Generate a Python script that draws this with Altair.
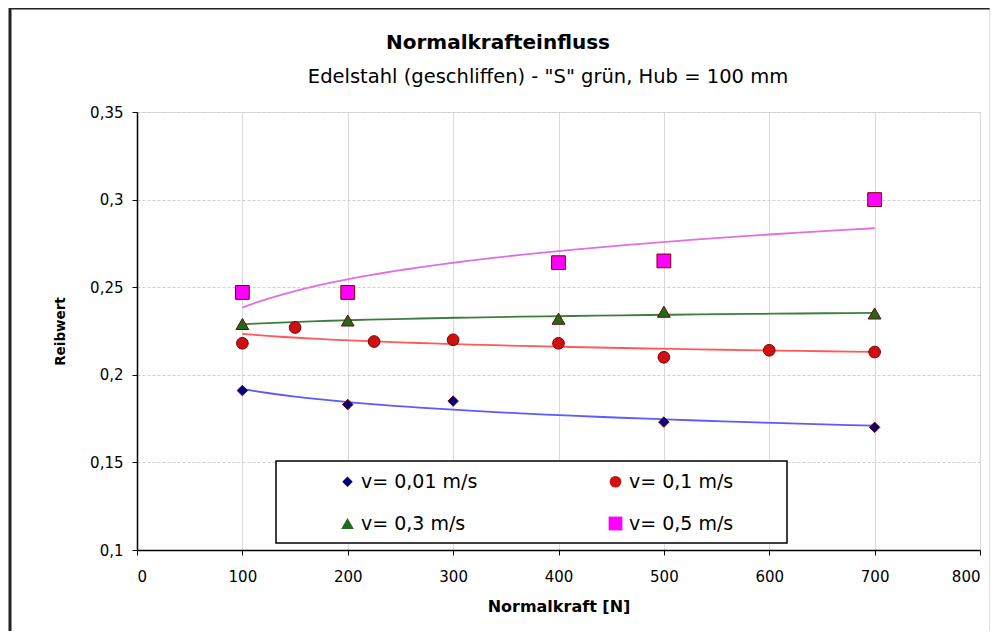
import altair as alt
import pandas as pd

# ---- data ----
series_names = ["v= 0,01 m/s", "v= 0,1 m/s", "v= 0,3 m/s", "v= 0,5 m/s"]

x_001 = [100, 200, 300, 500, 700]
y_001 = [0.191, 0.183, 0.185, 0.173, 0.170]

x_01 = [100, 150, 225, 300, 400, 500, 600, 700]
y_01 = [0.218, 0.227, 0.219, 0.220, 0.218, 0.210, 0.214, 0.213]

x_03 = [100, 200, 400, 500, 700]
y_03 = [0.229, 0.231, 0.232, 0.236, 0.235]

x_05 = [100, 200, 400, 500, 700]
y_05 = [0.247, 0.247, 0.264, 0.265, 0.300]

x_ticks = [0, 100, 200, 300, 400, 500, 600, 700, 800]
y_ticks = [0.1, 0.15, 0.2, 0.25, 0.3, 0.35]

title_text = "Normalkrafteinfluss"
subtitle_text = 'Edelstahl (geschliffen) - "S" grün, Hub = 100 mm'

rows = []
for name, xs, ys in zip(series_names, [x_001, x_01, x_03, x_05], [y_001, y_01, y_03, y_05]):
    for a, b in zip(xs, ys):
        rows.append({"Serie": name, "Normalkraft": a, "Reibwert": b})
df = pd.DataFrame(rows)

FONT = "DejaVu Sans"
W, H = 843, 438
L, T = 129, 104  # padding so plot area sits at (137,112) on page
OX, OY = 137, 112

point_fill = ["#00007A", "#D01010", "#1E6B1E", "#FF00FF"]
point_shape = ["diamond", "circle", "triangle-up", "square"]
point_size = [110, 190, 140, 130]
line_colors = ["#5B5BFF", "#FF5A5A", "#3C7F3C", "#E070E0"]

xenc = alt.X("Normalkraft:Q",
             scale=alt.Scale(domain=[0, 800], nice=False, zero=False),
             axis=alt.Axis(values=x_ticks, title="Normalkraft [N]", format="d",
                           grid=True, gridColor="#DADADA", gridWidth=1,
                           domainColor="#000000", domainWidth=1.5,
                           tickColor="#000000", tickSize=5,
                           labelFont=FONT, labelFontSize=15, labelColor="#000000",
                           labelPadding=14,
                           titleFont=FONT, titleFontSize=16, titleFontWeight="bold",
                           titleColor="#000000", titlePadding=14))
yenc = alt.Y("Reibwert:Q",
             scale=alt.Scale(domain=[0.1, 0.35], nice=False, zero=False),
             axis=alt.Axis(values=y_ticks, title="Reibwert",
                           labelExpr="replace(format(datum.value, '.2~f'), '.', ',')",
                           grid=True, gridColor="#CFCFCF", gridDash=[3, 2], gridWidth=1,
                           domainColor="#000000", domainWidth=1.5,
                           tickColor="#000000", tickSize=5,
                           labelFont=FONT, labelFontSize=15, labelColor="#000000",
                           labelPadding=9,
                           titleFont=FONT, titleFontSize=13.5, titleFontWeight="bold",
                           titleColor="#000000", titlePadding=22))

legend_cfg = dict(title=None, orient="none", columns=2, direction="horizontal",
                  legendX=346 - OX - 8, legendY=472 - OY,
                  labelFont=FONT, labelFontSize=19, labelColor="#000000",
                  symbolStrokeWidth=0,
                  columnPadding=128, rowPadding=22,
                  labelOffset=4, padding=0)

base = alt.Chart(df)

lines = base.transform_regression(
    "Normalkraft", "Reibwert", groupby=["Serie"], method="log"
).mark_line(strokeWidth=1.8).encode(
    x=xenc, y=yenc,
    color=alt.Color("Serie:N", scale=alt.Scale(domain=series_names, range=line_colors), legend=None),
)

one = pd.DataFrame({"k": [0]})

# legend frame (white box with black border) inside plot area
legend_box = alt.Chart(one).mark_rect(
    fill="white", stroke="#000000", strokeWidth=1.5
).encode(
    x=alt.value(276 - OX), x2=alt.value(787 - OX),
    y=alt.value(461 - OY), y2=alt.value(543 - OY),
)

points = base.mark_point(filled=True, opacity=1, strokeWidth=1).encode(
    x=xenc, y=yenc,
    shape=alt.Shape("Serie:N", scale=alt.Scale(domain=series_names, range=point_shape),
                    legend=alt.Legend(**legend_cfg)),
    fill=alt.Fill("Serie:N", scale=alt.Scale(domain=series_names, range=point_fill),
                  legend=alt.Legend(**legend_cfg)),
    size=alt.Size("Serie:N", scale=alt.Scale(domain=series_names, range=point_size),
                  legend=alt.Legend(**legend_cfg)),
    stroke=alt.value("#7A0000"),
)

# titles as text marks
title_mark = alt.Chart(one).mark_text(
    text=title_text, font=FONT, fontSize=20, fontWeight="bold", color="#000000",
    align="center", baseline="middle"
).encode(x=alt.value(498 - OX), y=alt.value(43 - OY))
subtitle_mark = alt.Chart(one).mark_text(
    text=subtitle_text, font=FONT, fontSize=19.5, color="#000000",
    align="center", baseline="middle"
).encode(x=alt.value(548 - OX), y=alt.value(77 - OY))

# outer chart frame
frame_left = alt.Chart(one).mark_rule(color="#222222", strokeWidth=3).encode(
    x=alt.value(10 - OX), y=alt.value(8 - OY), y2=alt.value(700))
frame_top = alt.Chart(one).mark_rule(color="#222222", strokeWidth=3).encode(
    x=alt.value(10 - OX), x2=alt.value(990 - OX), y=alt.value(8 - OY))
frame_right = alt.Chart(one).mark_rule(color="#BBBBBB", strokeWidth=1).encode(
    x=alt.value(990 - OX), y=alt.value(8 - OY), y2=alt.value(700))

chart = alt.layer(
    lines, legend_box, points, title_mark, subtitle_mark, frame_left, frame_top, frame_right
).resolve_scale(
    color="independent"
).properties(
    width=W, height=H,
    autosize=alt.AutoSizeParams(type="none"),
    padding={"left": L, "top": T, "right": 998 - 16 - L - W, "bottom": 639 - 16 - T - H},
).configure_view(
    stroke="#000000", strokeWidth=2
).configure(background="white")

chart.save("out.html", embed_options={"renderer": "svg", "actions": False})
